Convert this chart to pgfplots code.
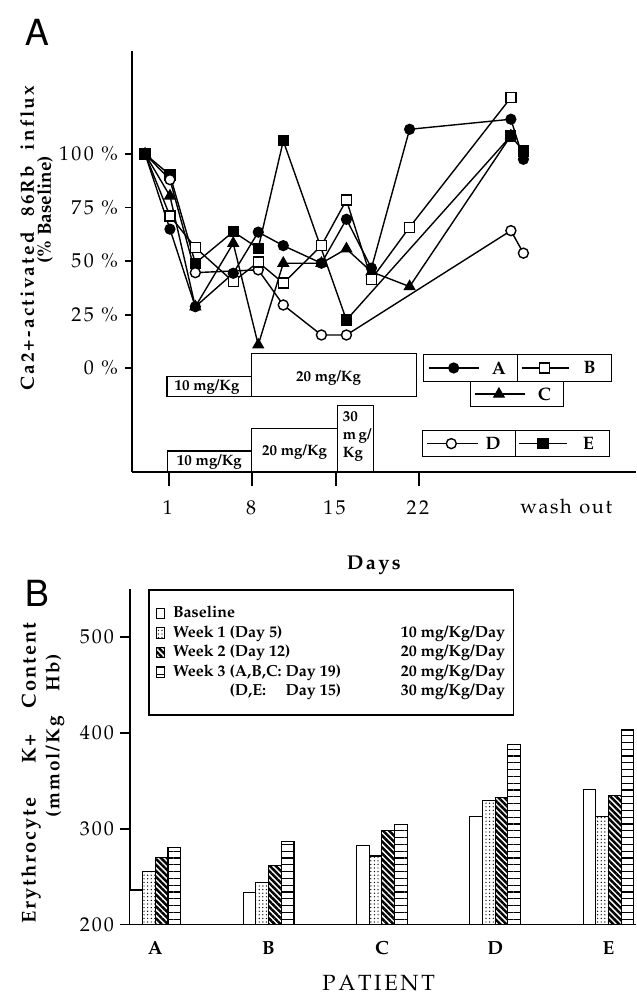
\documentclass[border=0pt]{standalone}
\usepackage[T1]{fontenc}
\usepackage{mathpazo}
\usepackage{pgfplots}
\pgfplotsset{compat=1.18}
\usetikzlibrary{patterns.meta}

% letter-spaced word: \lsk{kern}{word}
\makeatletter
\protected\def\lsk#1#2{{\def\ls@k{\kern#1}\ls@loop#2\@nil}}
\def\ls@loop#1{\ifx\@nil#1\else#1\ls@k\expandafter\ls@loop\fi}
\makeatother

\newlength\wthree
\newcommand\lrow[2]{\makebox[166pt]{#1\hfill#2}}

\pgfplotsset{
  every tick label/.append style={font=\fontsize{10}{12}\selectfont},
  boxlegend/.style={legend image code/.code={\draw[##1,line width=0.6pt] (0pt,-2.6pt) rectangle (4pt,2.6pt);}},
}

\begin{document}
\begin{tikzpicture}
\path[use as bounding box] (0,0) rectangle (318pt,497pt);

\node[font=\fontfamily{phv}\fontsize{18}{20}\selectfont] at (18.5pt,480.5pt) {A};
\node[font=\fontfamily{phv}\fontsize{18}{20}\selectfont] at (18.5pt,200pt) {B};

% ---------------- panel A ----------------
\begin{axis}[
  at={(65.85pt,261.15pt)}, anchor=south west,
  scale only axis, width=252.15pt, height=210.3pt,
  xmin=-2.12, xmax=40.2, ymin=-48.3, ymax=148,
  axis lines*=left,
  axis line style={line width=0.9pt},
  tick align=outside,
  major tick length=7pt,
  tick style={line width=0.9pt, black},
  xtick={1,8,15,22},
  xticklabels={\lsk{0.12em}{1},\lsk{0.12em}{8},\lsk{0.12em}{15},\lsk{0.12em}{22}},
  xticklabel style={yshift=-4pt},
  ytick=\empty,
  extra y ticks={0,25,50,75,100},
  extra y tick labels={\lsk{0.12em}{0}\ \%,\lsk{0.12em}{25}\ \%,\lsk{0.12em}{50}\ \%,\lsk{0.12em}{75}\ \%,\lsk{0.12em}{100}\ \%},
  extra y tick style={major tick length=3.3pt},
  clip=false,
  every axis plot/.append style={black, line width=0.7pt, mark size=2.5pt,
    mark options={solid, line width=0.6pt}},
]
% C
\addplot[mark=triangle*, mark size=3pt] coordinates {
  (-1,100)(1.09,80.4)(3.22,28.7)(6.4,58.3)(8.5,10.9)(10.6,49)
  (13.8,49)(15.9,55.7)(18,45)(21.2,38.1)(29.7,108.5)};
% E
\addplot[mark=square*] coordinates {
  (-1,100)(1.09,90.2)(3.22,49)(6.4,63.7)(8.5,56)(10.6,106.1)
  (15.9,22.5)(29.7,108.4)(30.75,101.4)};
% D
\addplot[mark=*, mark options={fill=white}, mark indices={2,3,4,5,6,7,8,9}] coordinates {
  (-1,100)(1.09,88)(3.22,44.6)(8.5,45.9)(10.6,29.5)(13.8,15.5)
  (15.9,15.5)(29.7,64.2)(30.75,53.7)};
% B
\addplot[mark=square*, mark options={fill=white}, mark indices={2,3,4,5,6,7,8,9,10,11}] coordinates {
  (-1,100)(1.09,71.1)(3.22,56.3)(6.4,40.4)(8.5,49.5)(10.6,39.7)
  (13.8,57.2)(15.9,78.5)(18,41.5)(21.2,65.8)(29.7,126.3)};
% A
\addplot[mark=*] coordinates {
  (-1,100)(1.09,64.9)(3.22,28.7)(6.4,44.3)(8.5,63.5)(10.6,57.2)
  (13.8,49)(15.9,69.5)(18,46.7)(21.2,111.5)(29.7,116.2)(30.75,97.5)};

% dose boxes
\begin{scope}[line width=0.6pt, font=\fontsize{7.5}{8.5}\selectfont\bfseries]
\draw (0.85,-13.25) rectangle (7.94,-3.9);
\draw (7.94,-13.25) rectangle (21.75,7.0);
\node at (4.2,-8.9) {10 mg/Kg};
\node at (14.4,-4.5) {20 mg/Kg};
\draw (0.9,-48.3) rectangle (7.94,-38.6);
\draw (7.94,-48.3) rectangle (15.16,-28.3);
\draw (15.16,-48.3) rectangle (18.2,-17.45);
\node at (4.4,-43.8) {10 mg/Kg};
\node at (11.55,-39.2) {20 mg/Kg};
\node[align=left, anchor=north west, inner sep=0pt, font=\fontsize{7.5}{9}\selectfont\bfseries]
  at (15.55,-20) {30\\m\,g/\\Kg};
\end{scope}

% legend boxes
\begin{scope}[line width=0.6pt]
\draw (22.39,-6.25) rectangle (30.28,6.5);
\draw (30.28,-6.25) rectangle (38.14,6.5);
\draw (26.29,-17.9) rectangle (34.14,-6.25);
\draw (22.3,-41.25) rectangle (30.1,-29.1);
\draw (30.1,-41.25) rectangle (37.98,-29.1);
\end{scope}
\addplot[mark=*, mark indices={2}] coordinates {(22.8,0.1)(24.9,0.1)(27.0,0.1)};
\addplot[mark=square*, mark options={fill=white}, mark indices={2}] coordinates {(30.6,0.1)(32.5,0.1)(34.6,0.1)};
\addplot[mark=triangle*, mark size=3pt, mark indices={2}] coordinates {(26.7,-12.1)(28.7,-12.1)(30.9,-12.1)};
\addplot[mark=*, mark options={fill=white}, mark indices={2}] coordinates {(22.7,-35.2)(24.7,-35.2)(26.9,-35.2)};
\addplot[mark=square*, mark indices={2}] coordinates {(30.4,-35.2)(32.4,-35.2)(34.4,-35.2)};
\begin{scope}[font=\fontsize{9}{10}\selectfont\bfseries]
\node at (28.7,0.1) {A};
\node at (36.3,0.1) {B};
\node at (32.5,-12.1) {C};
\node at (28.2,-35.2) {D};
\node at (36.2,-35.2) {E};
\end{scope}

\node[font=\fontsize{10}{12}\selectfont] at (34.41,-64.7) {\lsk{0.08em}{wash}\hspace{0.3em}\lsk{0.08em}{out}};
\node[font=\fontsize{10}{12}\selectfont\bfseries] at (18.3,-91.8) {\lsk{0.12em}{Days}};
\node[rotate=90, font=\fontsize{9.5}{11}\selectfont\bfseries] at (-10.9,61.2)
  {\lsk{0.12em}{Ca2+-activated}\hspace{0.7em}\lsk{0.12em}{86Rb}\hspace{0.7em}\lsk{0.12em}{influx}};
\node[rotate=90, font=\fontsize{9.5}{11}\selectfont\bfseries] at (-9.39,73.9) {(\% Baseline)};
\end{axis}

% ---------------- panel B ----------------
\begin{axis}[
  at={(65pt,34.75pt)}, anchor=south west,
  scale only axis, width=253pt, height=167.65pt,
  xmin=-0.223, xmax=4.243, ymin=200, ymax=550,
  axis lines*=left,
  axis line style={line width=0.9pt},
  tick align=outside,
  major tick length=5pt,
  tick style={line width=0.9pt, black},
  xtick={0,1,2,3,4},
  xticklabels={A,B,C,D,E},
  x tick style={draw=none},
  xticklabel style={yshift=0pt, font=\fontsize{9.5}{11}\selectfont\bfseries},
  ytick={200,300,400,500},
  yticklabels={\lsk{0.1em}{200},\lsk{0.1em}{300},\lsk{0.1em}{400},\lsk{0.1em}{500}},
  yticklabel style={xshift=1.5pt},
  bar width=0.112,
  clip mode=individual,
  legend style={at={(0.036,1)}, anchor=north west, draw=black, line width=0.8pt,
    font=\fontsize{8}{9}\selectfont\bfseries,
    inner xsep=3.3pt, inner ysep=6.8pt, column sep=3.2pt, row sep=0pt,
    nodes={inner sep=0.9pt, text height=6pt, text depth=2pt},
    cells={anchor=west}},
]
\addplot[ybar, bar shift=-0.168, draw=black, line width=0.55pt, fill=white, boxlegend]
  coordinates {(0,236)(1,233)(2,282)(3,312.5)(4,340.5)};
\addlegendentry{\lrow{Baseline}{}}
\addplot[ybar, bar shift=-0.056, draw=black, line width=0.55pt, fill=white,
  postaction={pattern={Dots[distance=1.8pt, radius=0.35pt]}}, boxlegend]
  coordinates {(0,255.5)(1,244)(2,271.5)(3,329)(4,312.5)};
\addlegendentry{\lrow{Week 1 (Day 5)}{10 mg/Kg/Day}}
\addplot[ybar, bar shift=0.056, draw=black, line width=0.55pt, fill=white,
  postaction={pattern={Lines[angle=-45, distance=2.1pt, line width=1.25pt]}}, boxlegend]
  coordinates {(0,269.5)(1,261.5)(2,298.5)(3,332.5)(4,335)};
\addlegendentry{\lrow{Week 2 (Day 12)}{20 mg/Kg/Day}}
\addplot[ybar, bar shift=0.168, draw=black, line width=0.55pt, fill=white,
  postaction={pattern={Lines[angle=0, distance=3.4pt, line width=0.55pt]}}, boxlegend]
  coordinates {(0,280)(1,287)(2,304)(3,388)(4,403)};
\addlegendentry{\lrow{Week 3 (A,B,C: Day 19)}{20 mg/Kg/Day}}
\addlegendimage{empty legend}
\addlegendentry{\settowidth{\wthree}{Week 3 (A,B,C: Day 19)}\lrow{\makebox[\wthree][l]{\hphantom{Week 3 }(D,E:\hfill Day 15)}}{30 mg/Kg/Day}}

\node[font=\fontsize{11}{13}\selectfont] at (1.983,138.9) {\lsk{0.12em}{PATIENT}};
\node[rotate=90, font=\fontsize{10}{12}\selectfont\bfseries] at (-1.097,359)
  {\lsk{0.1em}{Erythrocyte}\hspace{1.6em}\lsk{0.1em}{K+}\hspace{1.2em}\lsk{0.1em}{Content}};
\node[rotate=90, font=\fontsize{9.5}{11}\selectfont\bfseries] at (-0.885,398)
  {\lsk{0.1em}{(mmol/Kg}\hspace{1.2em}\lsk{0.1em}{Hb)}};
\end{axis}
\end{tikzpicture}
\end{document}
